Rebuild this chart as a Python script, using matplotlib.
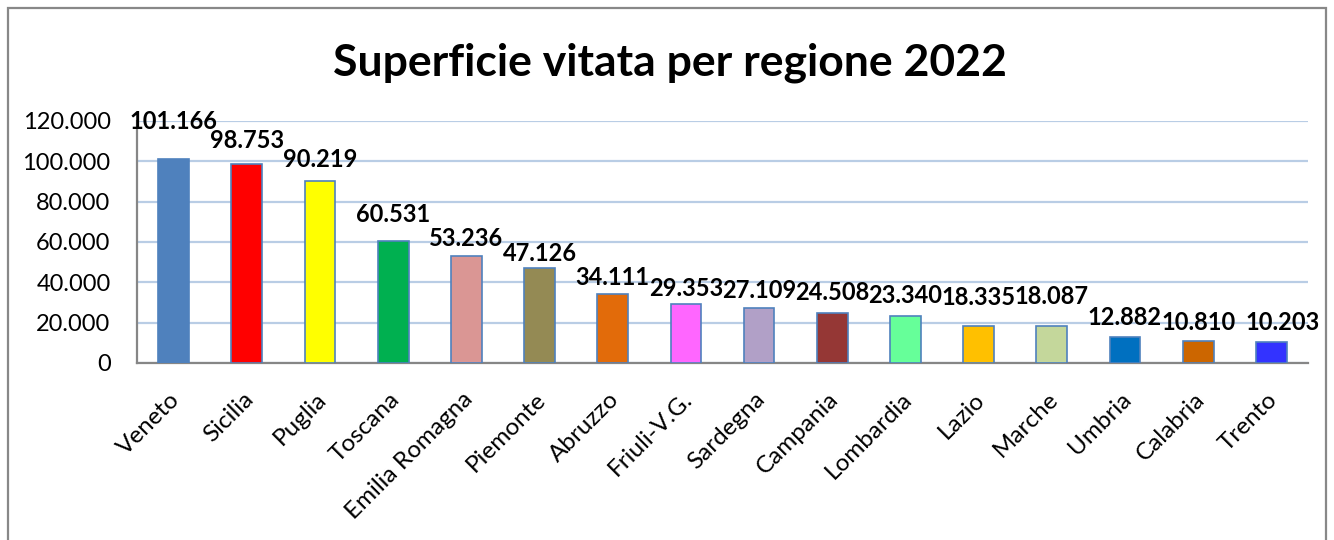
import matplotlib
matplotlib.use("Agg")
import matplotlib.pyplot as plt
from matplotlib.patches import Rectangle
from matplotlib.ticker import FuncFormatter
from matplotlib.transforms import ScaledTranslation

regions = ["Veneto", "Sicilia", "Puglia", "Toscana", "Emilia Romagna", "Piemonte",
           "Abruzzo", "Friuli-V.G.", "Sardegna", "Campania", "Lombardia", "Lazio",
           "Marche", "Umbria", "Calabria", "Trento"]
values = [101166, 98753, 90219, 60531, 53236, 47126, 34111, 29353, 27109, 24508,
          23340, 18335, 18087, 12882, 10810, 10203]
colors = ["#4F81BD", "#FF0000", "#FFFF00", "#00B050", "#DA9694", "#948A54",
          "#E26B0A", "#FF66FF", "#B1A0C7", "#953735", "#66FF99", "#FFC000",
          "#C4D79B", "#0070C0", "#CC6600", "#3333FF"]
title = "Superficie vitata per regione 2022"

# label placement offsets (pixels) as positioned in the original chart
label_gap_px = [30, 16, 14, 19, 10, 7, 9, 8, 10, 13, 13, 21, 22, 12, 11, 12]
label_dx_px = [0, 0, 0, 0, 0, 0, 0, 0, 0, 0, 0, 0, 0, 0, 0, 11]

plt.rcParams['font.family'] = ['Lato', 'DejaVu Sans']

fig = plt.figure(figsize=(13.34, 5.4), dpi=100)
ax = fig.add_axes([0.1027, 0.328, 0.8778, 0.448])

x = list(range(len(regions)))
ax.bar(x, values, width=0.42, color=colors, edgecolor="#4F81BD", linewidth=1.2, zorder=3)

ax.set_ylim(0, 120000)
ax.set_xlim(-0.5, len(regions) - 0.5)
ax.set_yticks(range(0, 120001, 20000))
ax.yaxis.set_major_formatter(FuncFormatter(lambda v, p: f"{int(v):,}".replace(",", ".")))
ax.grid(axis="y", color="#B9CDE5", linewidth=1.6, zorder=0)
ax.set_axisbelow(True)

for s in ["top", "right"]:
    ax.spines[s].set_visible(False)
for s in ["left", "bottom"]:
    ax.spines[s].set_color("#868686")
    ax.spines[s].set_linewidth(1.6)

ax.tick_params(axis="y", length=0, pad=19, labelsize=17)
ax.tick_params(axis="x", length=0, pad=24, labelsize=17.5)
ax.set_xticks(x)
ax.set_xticklabels(regions, rotation=45, ha="right", va="center", rotation_mode="anchor")
for lab in ax.get_xticklabels():
    lab.set_transform(lab.get_transform() + ScaledTranslation(0.03, 0, fig.dpi_scale_trans))

for i, v in enumerate(values):
    ax.annotate(f"{v:,}".replace(",", "."), (i, v), xytext=(label_dx_px[i], label_gap_px[i]),
                textcoords="offset pixels", ha="center", va="baseline",
                fontsize=17, fontweight="bold", zorder=5)

fig.text(0.502, 0.861, title, ha="center", va="baseline", fontsize=32, fontweight="bold")

fig.patches.append(Rectangle((0.006, -0.05), 0.988, 1.035, transform=fig.transFigure,
                             fill=False, edgecolor="#888888", linewidth=1.6))

fig.savefig("out.png", dpi=100)
